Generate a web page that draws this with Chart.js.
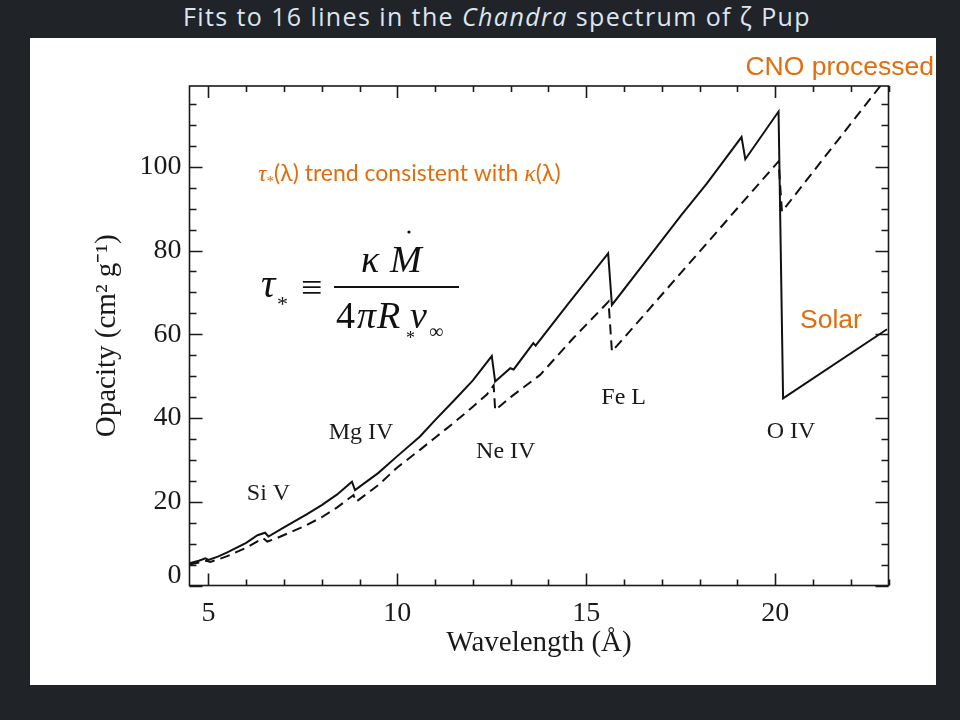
<!DOCTYPE html>
<html>
<head>
<meta charset="utf-8">
<title>Opacity vs wavelength - zeta Pup</title>
<script src="https://cdn.jsdelivr.net/npm/chart.js@4.4.1/dist/chart.umd.min.js"></script>
<style>
    html, body { margin: 0; padding: 0; }
    body { width: 960px; height: 720px; background: #202327; position: relative; overflow: hidden; }
    #title {
        position: absolute; top: 0; left: 0; width: 994px;
        text-align: center; color: #dce6f2;
        font: 25px/32px "Open Sans", sans-serif;
        letter-spacing: 1.4px;
    }
    #panel { position: absolute; left: 30px; top: 38px; width: 906px; height: 647px; background: #fff; }
</style>
</head>
<body>
<div id="title">Fits to 16 lines in the <i>Chandra</i> spectrum of ζ Pup</div>
<div id="panel"><canvas id="opacityChart" width="906" height="647"></canvas></div>

<script>
// Opacity curves (wavelength in Angstrom, opacity in cm^2 g^-1)
const cnoWave = [4.50, 4.75, 4.92, 5.00, 5.25, 5.50, 6.00, 6.30, 6.50, 6.59, 7.00, 7.60, 8.00, 8.40, 8.80, 8.88,
    9.50, 10.00, 10.60, 11.00, 11.50, 12.00, 12.50, 12.59, 12.99, 13.08, 13.60, 13.66, 14.50, 15.58, 15.68,
    16.50, 17.50, 18.20, 19.11, 19.21, 20.09, 20.21, 22.96];
const cnoOpacity = [5.3, 5.9, 6.5, 6.1, 6.9, 7.9, 10.2, 12.0, 12.6, 11.7, 13.9, 17.0, 19.2, 21.7, 24.8, 22.8,
    26.9, 30.9, 35.6, 39.5, 44.2, 49.0, 54.8, 48.7, 51.9, 51.6, 57.9, 57.3, 67.0, 79.3, 67.0,
    76.6, 88.3, 96.1, 107.1, 101.8, 113.2, 44.7, 61.2];

const solarWave = [4.50, 4.95, 5.05, 5.50, 6.00, 6.45, 6.56, 6.81, 7.50, 8.00, 8.40, 8.84, 8.91,
    9.50, 10.00, 10.60, 11.00, 11.50, 12.00, 12.37, 12.55, 12.59, 13.00, 13.78, 14.66, 15.59, 15.68,
    16.50, 17.50, 18.20, 19.00, 20.09, 20.18, 23.00];
const solarOpacity = [5.0, 5.9, 5.6, 7.0, 9.0, 11.3, 10.5, 11.3, 14.0, 16.3, 18.6, 21.6, 20.0,
    24.0, 28.2, 32.4, 35.3, 38.9, 42.7, 45.6, 47.8, 41.9, 45.0, 50.3, 59.1, 67.8, 55.9,
    64.3, 74.6, 81.8, 90.1, 101.3, 89.3, 121.8];

// Axis ticks
const xTickValues = [5, 10, 15, 20];
const xMinorTicks = [5, 6, 7, 8, 9, 10, 11, 12, 13, 14, 15, 16, 17, 18, 19, 20, 21, 22, 23];
const yTickValues = [0, 20, 40, 60, 80, 100];
const yMinorTicks = [0, 5, 10, 15, 20, 25, 30, 35, 40, 45, 50, 55, 60, 65, 70, 75, 80, 85, 90, 95, 100, 105, 110, 115];

// Edge labels, placed in data units
const ionLabels = ['Si V', 'Mg IV', 'Ne IV', 'Fe L', 'O IV'];
const ionWave = [6.59, 9.04, 12.87, 15.99, 20.42];
const ionOpacity = [21.9, 36.6, 32.0, 44.8, 36.7];

const SERIF = '"Liberation Serif", "Times New Roman", serif';
const ORANGE = '#e46c0a';

function toPoints(xs, ys) {
    return xs.map((x, i) => ({ x: x, y: ys[i] }));
}

// IDL style box: ticks pointing inward on all four sides
const boxTicks = {
    id: 'boxTicks',
    afterDatasetsDraw(chart) {
        const { ctx, chartArea: a, scales: { x, y } } = chart;
        ctx.save();
        ctx.strokeStyle = '#1a1a1a';
        ctx.lineWidth = 1.6;
        ctx.beginPath();
        xMinorTicks.forEach(v => {
            const px = Math.round(x.getPixelForValue(v)) + 0.5;
            const len = xTickValues.includes(v) ? 12 : 6;
            ctx.moveTo(px, a.bottom); ctx.lineTo(px, a.bottom - len);
            ctx.moveTo(px, a.top); ctx.lineTo(px, a.top + len);
        });
        yMinorTicks.forEach(v => {
            const py = Math.round(y.getPixelForValue(v)) + 0.5;
            const len = yTickValues.includes(v) ? 13 : 7;
            ctx.moveTo(a.left, py); ctx.lineTo(a.left + len, py);
            ctx.moveTo(a.right, py); ctx.lineTo(a.right - len, py);
        });
        ctx.stroke();
        ctx.strokeRect(a.left, a.top, a.right - a.left, a.bottom - a.top);
        ctx.restore();
    }
};

// Text on the figure: ion edges, orange notes and the tau_* formula
const figureText = {
    id: 'figureText',
    afterDraw(chart) {
        const { ctx, scales: { x, y } } = chart;
        ctx.save();
        ctx.fillStyle = '#1a1a1a';
        ctx.textAlign = 'center';
        ctx.textBaseline = 'middle';
        ctx.font = '24px ' + SERIF;
        ionLabels.forEach((t, i) => {
            ctx.fillText(t, x.getPixelForValue(ionWave[i]), y.getPixelForValue(ionOpacity[i]));
        });

        // orange notes
        ctx.fillStyle = ORANGE;
        ctx.font = '26.5px "Liberation Sans", Arial, sans-serif';
        ctx.textAlign = 'right';
        ctx.fillText('CNO processed', 904, 30);
        ctx.textAlign = 'center';
        ctx.fillText('Solar', 801, 283);

        ctx.textAlign = 'left';
        ctx.textBaseline = 'alphabetic';
        const note = [
            ['τ', 'italic 24px ' + SERIF, 0],
            ['*', '15px ' + SERIF, 5],
            ['(λ) trend consistent with ', '23px Lato, sans-serif', 0],
            ['κ', 'italic 24px ' + SERIF, 0],
            ['(λ)', '23px Lato, sans-serif', 0]
        ];
        let nx = 228;
        note.forEach(([t, f, dy]) => {
            ctx.font = f;
            ctx.fillText(t, nx, 143 + dy);
            nx += ctx.measureText(t).width;
        });

        // tau_* = kappa Mdot / (4 pi R_* v_inf)
        ctx.fillStyle = '#111';
        const put = (t, f, px, py) => { ctx.font = f; ctx.fillText(t, px, py); };
        put('τ', 'italic 40px ' + SERIF, 231, 259);
        put('*', '22px ' + SERIF, 247, 273);
        put('≡', '38px ' + SERIF, 271, 262);
        ctx.fillRect(304, 248, 125, 2);
        put('κ', 'italic 38px ' + SERIF, 331, 234);
        put('M', 'italic 38px ' + SERIF, 360, 234);
        ctx.beginPath();
        ctx.arc(379, 194, 1.6, 0, Math.PI * 2);
        ctx.fill();
        put('4', '38px ' + SERIF, 306, 290);
        put('π', 'italic 38px ' + SERIF, 327, 290);
        put('R', 'italic 38px ' + SERIF, 347, 290);
        put('*', '18px ' + SERIF, 376, 306);
        put('v', 'italic 38px ' + SERIF, 380, 290);
        put('∞', '20px ' + SERIF, 399, 300);
        ctx.restore();
    }
};

const ctx = document.getElementById('opacityChart').getContext('2d');
new Chart(ctx, {
    type: 'scatter',
    data: {
        datasets: [{
            label: 'CNO processed',
            data: toPoints(cnoWave, cnoOpacity),
            showLine: true,
            borderColor: '#111',
            borderWidth: 2,
            pointRadius: 0,
            tension: 0
        }, {
            label: 'Solar',
            data: toPoints(solarWave, solarOpacity),
            showLine: true,
            borderColor: '#111',
            borderWidth: 2,
            borderDash: [10, 6],
            pointRadius: 0,
            tension: 0
        }]
    },
    options: {
        responsive: false,
        animation: false,
        devicePixelRatio: 1,
        layout: { padding: { left: 0, top: 48, right: 47.5, bottom: 0 } },
        plugins: {
            legend: { display: false },
            tooltip: { enabled: false }
        },
        scales: {
            x: {
                type: 'linear',
                min: 4.5,
                max: 23,
                afterBuildTicks: (scale) => { scale.ticks = xTickValues.map(v => ({ value: v })); },
                afterFit: (scale) => { scale.height = 99.5; },
                grid: { display: false, drawTicks: false },
                border: { display: false },
                ticks: {
                    color: '#1a1a1a',
                    padding: 11,
                    maxRotation: 0,
                    font: { family: SERIF, size: 28 }
                },
                title: {
                    display: true,
                    text: 'Wavelength (Å)',
                    color: '#1a1a1a',
                    font: { family: SERIF, size: 29, lineHeight: 1 },
                    padding: { top: 0, bottom: 27 }
                }
            },
            y: {
                type: 'linear',
                min: 0,
                max: 119.3,
                afterBuildTicks: (scale) => { scale.ticks = yTickValues.map(v => ({ value: v })); },
                afterFit: (scale) => { scale.width = 159.5; },
                grid: { display: false, drawTicks: false },
                border: { display: false },
                ticks: {
                    color: '#1a1a1a',
                    padding: 8,
                    // IDL lifts the corner "0" above its tick
                    callback: (v) => v === 0 ? ['0', ''] : String(v),
                    font: (c) => ({
                        family: SERIF,
                        size: 28,
                        lineHeight: c.tick && c.tick.value === 0 ? 0.68 : 1.2
                    })
                },
                title: {
                    display: true,
                    text: 'Opacity (cm² g⁻¹)',
                    color: '#1a1a1a',
                    font: { family: SERIF, size: 29, lineHeight: 1 },
                    padding: { top: 63, bottom: 0 }
                }
            }
        }
    },
    plugins: [boxTicks, figureText]
});
</script>
</body>
</html>
